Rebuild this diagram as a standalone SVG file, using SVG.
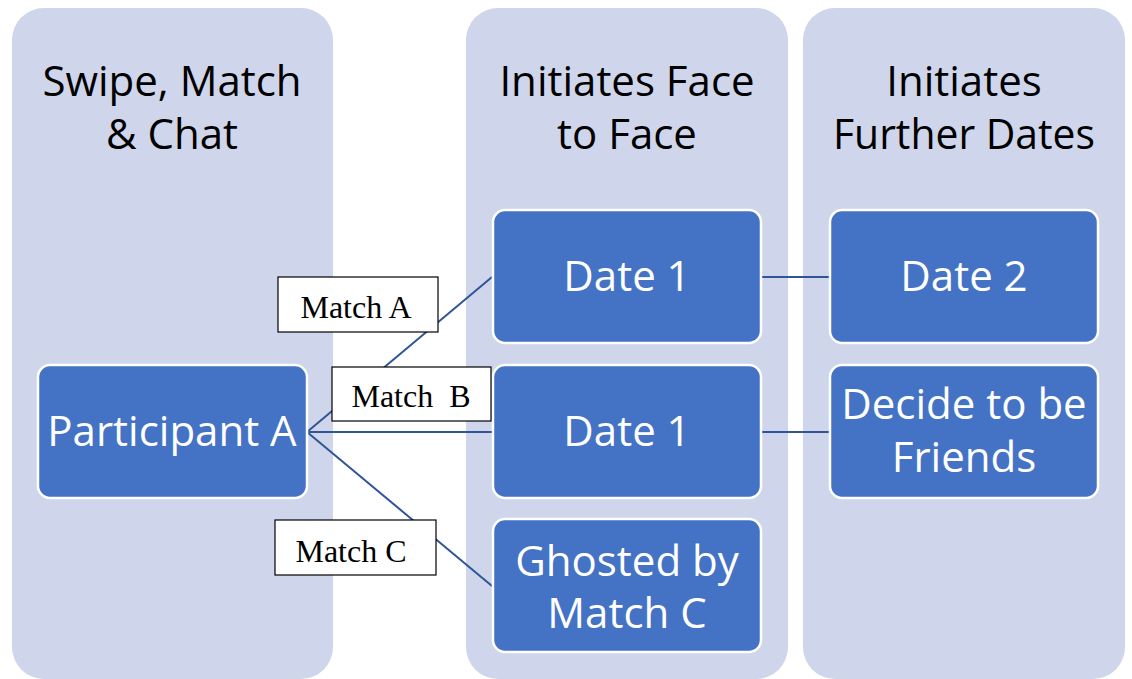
<svg xmlns="http://www.w3.org/2000/svg" width="1132" height="679" viewBox="0 0 1132 679">
  <style>
    .lane { fill: #CFD5EA; }
    .lane-title { font-family: "Open Sans", "Liberation Sans", sans-serif; font-size: 42px; fill: #000; text-anchor: middle; }
    .box { fill: #4472C4; stroke: #FFFFFF; stroke-width: 2.5; }
    .box-text { font-family: "Open Sans", "Liberation Sans", sans-serif; font-size: 42px; fill: #FFFFFF; text-anchor: middle; }
    .link { stroke: #2F5597; stroke-width: 2; fill: none; }
    .tag { fill: #FFFFFF; stroke: #000000; stroke-width: 1.2; }
    .tag-text { font-family: "Liberation Serif", serif; font-size: 32px; fill: #000; text-anchor: middle; }
  </style>

  <rect width="1132" height="679" fill="#FFFFFF"/>

  <!-- swimlanes -->
  <g id="lane-swipe">
    <rect class="lane" x="12" y="8" width="321" height="671" rx="32"/>
    <text class="lane-title" x="172" y="96">Swipe, Match</text>
    <text class="lane-title" x="172" y="149">&amp; Chat</text>
  </g>
  <g id="lane-face">
    <rect class="lane" x="466" y="8" width="322" height="671" rx="32"/>
    <text class="lane-title" x="627" y="96">Initiates Face</text>
    <text class="lane-title" x="627" y="149">to Face</text>
  </g>
  <g id="lane-further">
    <rect class="lane" x="803" y="8" width="322" height="671" rx="32"/>
    <text class="lane-title" x="964" y="96">Initiates</text>
    <text class="lane-title" x="964" y="149" textLength="262" lengthAdjust="spacingAndGlyphs">Further Dates</text>
  </g>

  <!-- connectors -->
  <g id="connectors">
    <line class="link" x1="307" y1="432" x2="492" y2="277"/>
    <line class="link" x1="307" y1="432" x2="493" y2="432"/>
    <line class="link" x1="307" y1="432" x2="492" y2="586"/>
    <line class="link" x1="761" y1="277" x2="830" y2="277"/>
    <line class="link" x1="761" y1="432" x2="830" y2="432"/>
  </g>

  <!-- nodes -->
  <g id="participant-a">
    <rect class="box" x="38" y="365" width="269" height="133" rx="12"/>
    <text class="box-text" x="172" y="446">Participant A</text>
  </g>
  <g id="date1-a">
    <rect class="box" x="493" y="210" width="268" height="133" rx="12"/>
    <text class="box-text" x="627" y="291">Date 1</text>
  </g>
  <g id="date1-b">
    <rect class="box" x="493" y="365" width="268" height="133" rx="12"/>
    <text class="box-text" x="627" y="446">Date 1</text>
  </g>
  <g id="ghosted">
    <rect class="box" x="493" y="519" width="268" height="133" rx="12"/>
    <text class="box-text" x="627" y="576">Ghosted by</text>
    <text class="box-text" x="627" y="628">Match C</text>
  </g>
  <g id="date2">
    <rect class="box" x="830" y="210" width="268" height="133" rx="12"/>
    <text class="box-text" x="964" y="291">Date 2</text>
  </g>
  <g id="friends">
    <rect class="box" x="830" y="365" width="268" height="133" rx="12"/>
    <text class="box-text" x="964" y="419">Decide to be</text>
    <text class="box-text" x="964" y="472">Friends</text>
  </g>

  <!-- connector labels -->
  <g id="label-match-a">
    <rect class="tag" x="278" y="277" width="160" height="55"/>
    <text class="tag-text" x="356" y="318">Match A</text>
  </g>
  <g id="label-match-b">
    <rect class="tag" x="332" y="367" width="159" height="54"/>
    <text class="tag-text" x="411" y="407" xml:space="preserve">Match  B</text>
  </g>
  <g id="label-match-c">
    <rect class="tag" x="275" y="520" width="161" height="55"/>
    <text class="tag-text" x="351" y="562">Match C</text>
  </g>
</svg>
